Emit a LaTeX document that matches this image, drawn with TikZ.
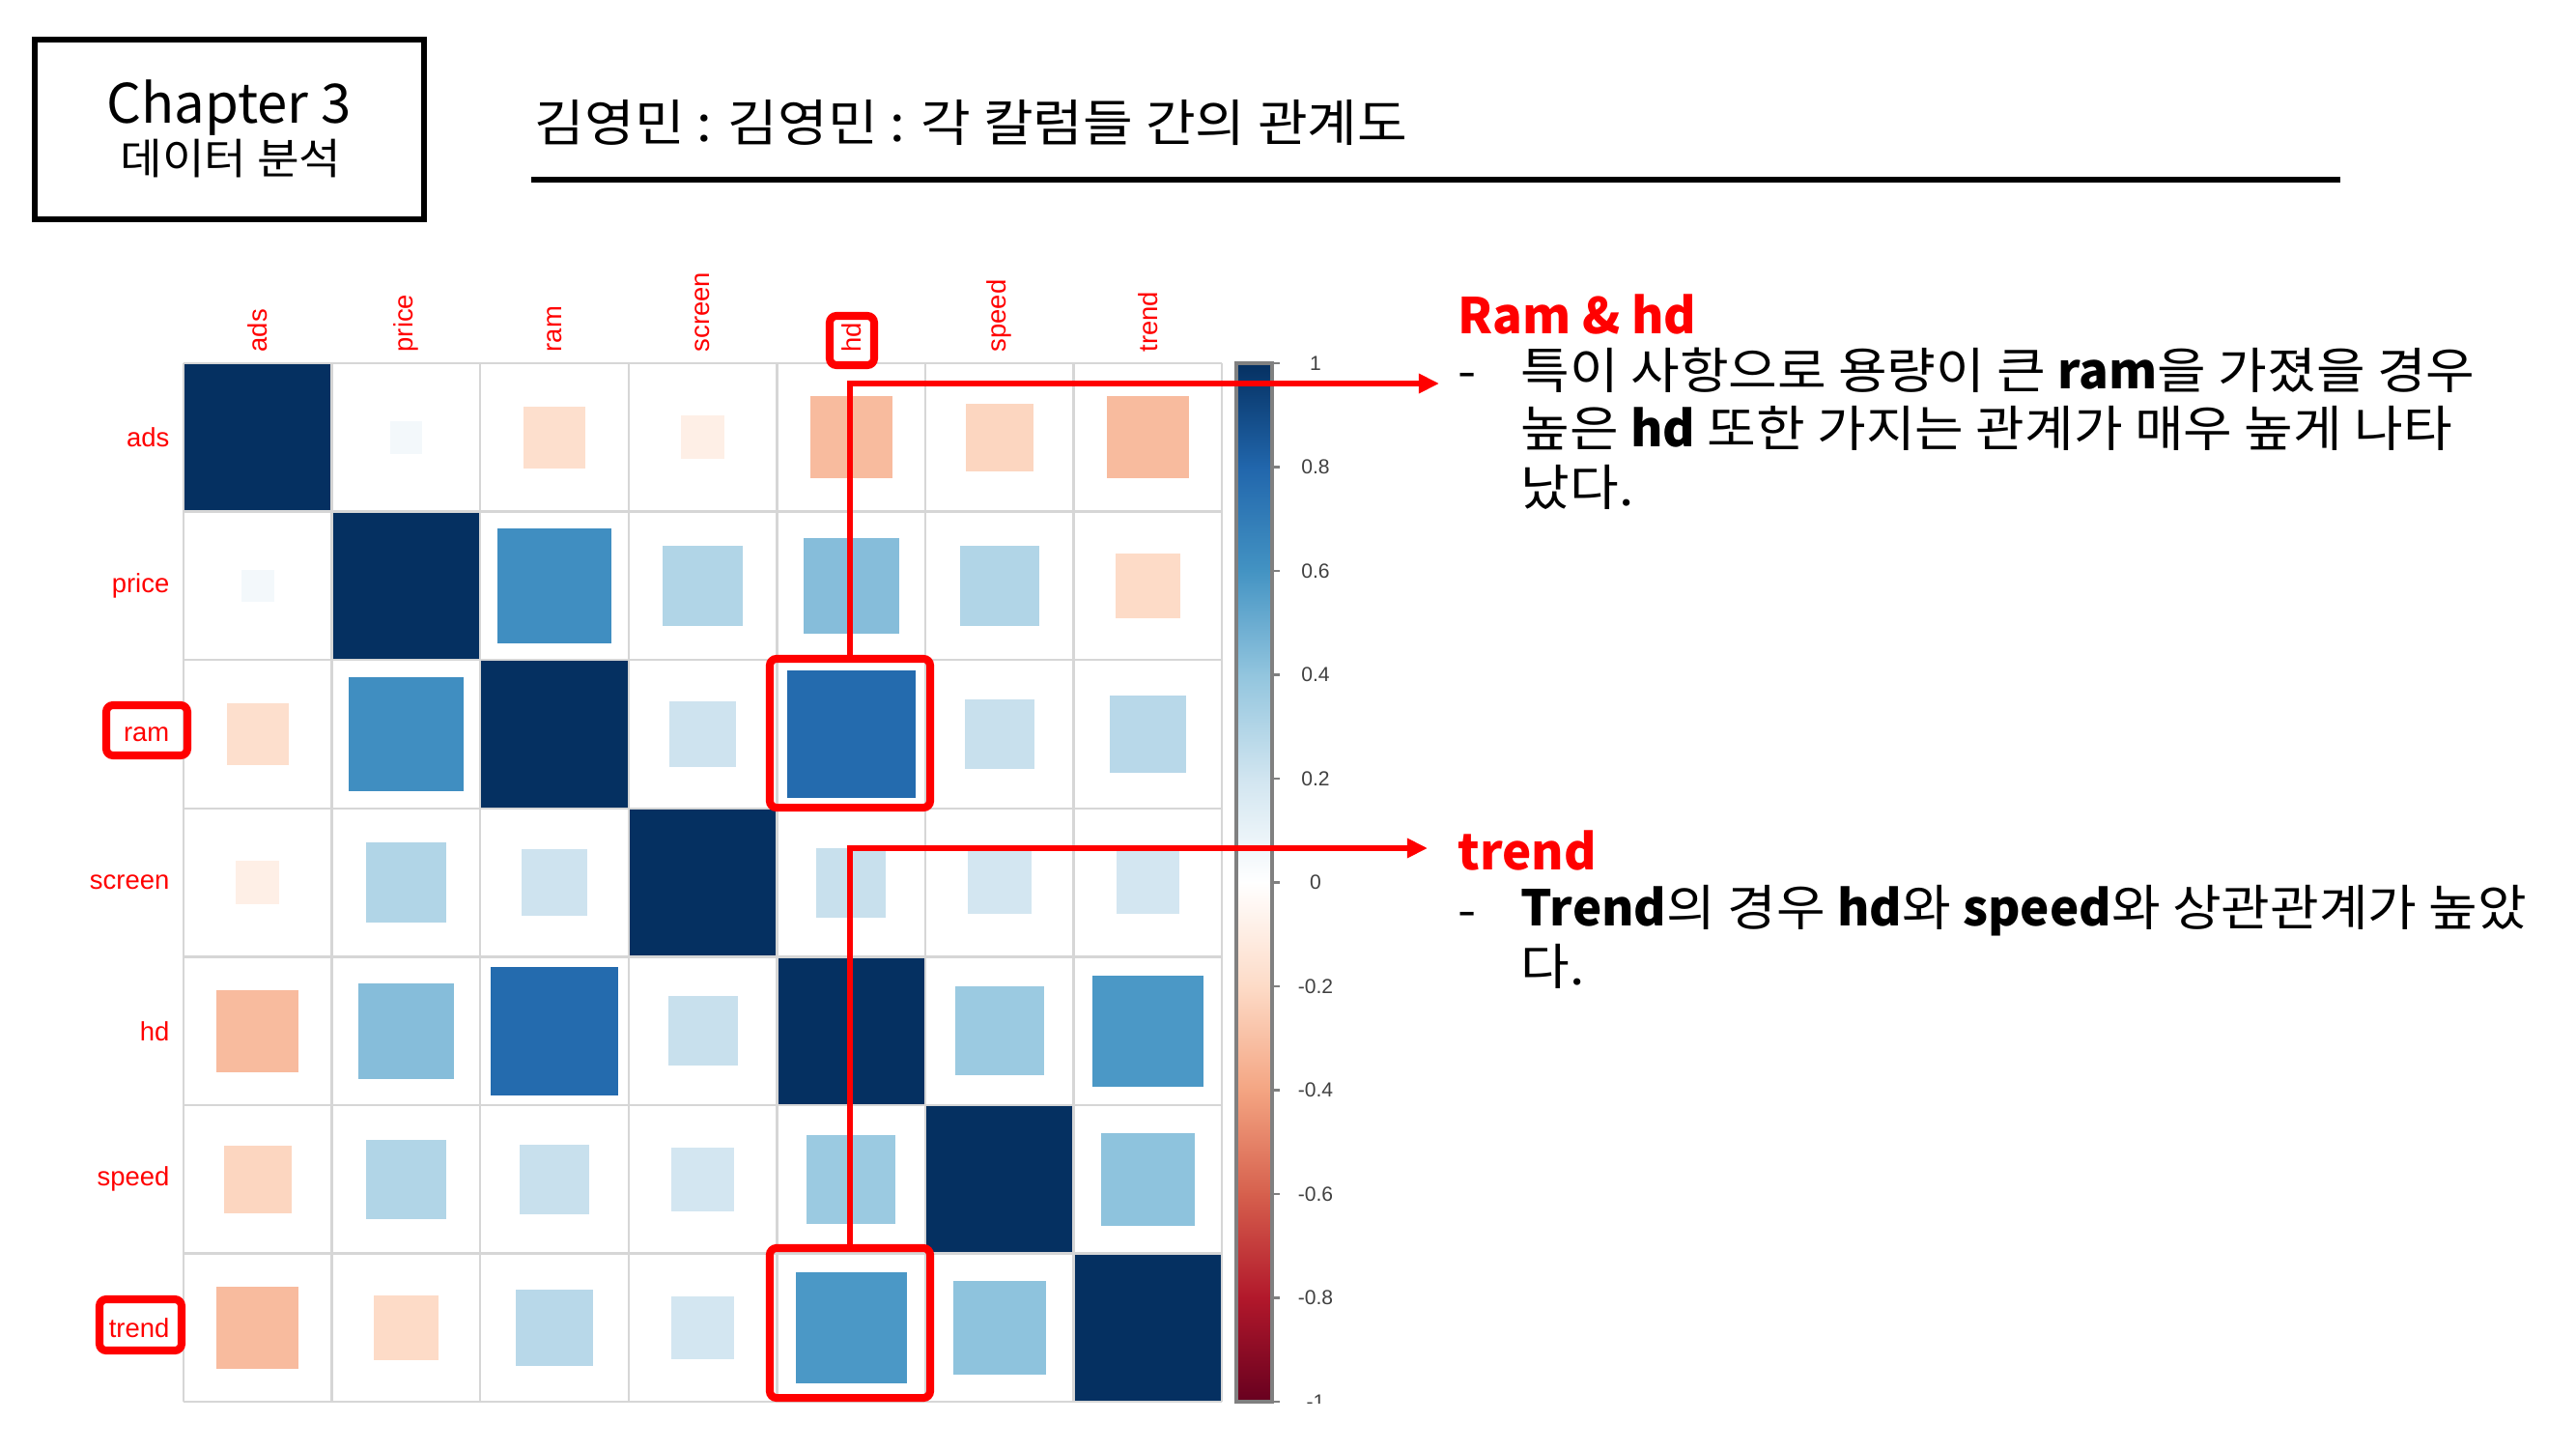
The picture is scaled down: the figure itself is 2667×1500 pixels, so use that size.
\documentclass[tikz,border=0pt]{standalone}
\usepackage{fontspec}
\setmainfont{Noto Sans CJK KR}
\newfontfamily\notefont{Noto Sans CJK KR}[UprightFeatures={FakeStretch=1.08}]
\newfontfamily\plotfont{Liberation Sans}
\usetikzlibrary{positioning, arrows.meta}

\definecolor{cm10}{HTML}{67001F}
\definecolor{cm8}{HTML}{B2182B}
\definecolor{cm6}{HTML}{D6604D}
\definecolor{cm4}{HTML}{F4A582}
\definecolor{cm2}{HTML}{FDDBC7}
\definecolor{cp2}{HTML}{D1E5F0}
\definecolor{cp4}{HTML}{92C5DE}
\definecolor{cp6}{HTML}{4393C3}
\definecolor{cp8}{HTML}{2166AC}
\definecolor{cp10}{HTML}{053061}
\definecolor{gridgray}{HTML}{D6D6D6}

\begin{document}
\begin{tikzpicture}[x=0.01cm, y=-0.01cm,
  hlbox/.style={draw=red, line width=2.3pt, rounded corners=2pt, inner sep=0pt},
  redarrow/.style={red, line width=1.7pt, -{Triangle[length=6pt,width=5.5pt]}},
  rowlab/.style={anchor=east, text=red, inner sep=0pt, font=\plotfont\fontsize{7.8}{9}\selectfont},
  collab/.style={rowlab, anchor=west, rotate=90},
  barlab/.style={text=black!75, inner sep=0pt, font=\plotfont\fontsize{6}{7}\selectfont},
  bodytext/.style={anchor=base west, align=left, inner sep=0pt, font=\notefont\fontsize{14.5}{17.07}\selectfont},
  headtext/.style={anchor=base west, inner sep=0pt, text=red, font=\fontsize{14.5}{17.07}\selectfont\bfseries}]

\useasboundingbox (0,0) rectangle (2667,1500);

% chapter box and title
\node[draw, line width=1.7pt, minimum width=4.03cm, minimum height=1.86cm] (chapbox) at (237.5,134) {};
\node[anchor=base, inner sep=0pt, font=\fontsize{16}{19}\selectfont] (chapnum) at (237,128) {Chapter 3};
\node[anchor=base, inner sep=0pt, font=\notefont\fontsize{12.5}{15}\selectfont] (chapname) at (239,180) {데이터 분석};
\node[anchor=base west, inner sep=0pt, font=\notefont\fontsize{14.8}{17}\selectfont] (title) at (553,147) {김영민 : 김영민 : 각 칼럼들 간의 관계도};
\draw[line width=1.7pt] (550,186) -- (2423,186);

% diagonal cells
\foreach \i in {0,...,6}
\fill[cp10] (190+\i*153.6,376+\i*153.6) rectangle +(153.6,153.6);

% squares for correlations
\foreach \i/\j/\r/\col in
{0/1/0.05/cp2!25!white, 0/2/-0.18/cm2!90!white, 0/3/-0.09/cm2!45!white,
 0/4/-0.32/cm4!60!cm2, 0/5/-0.22/cm4!10!cm2, 0/6/-0.32/cm4!60!cm2,
 1/2/0.62/cp8!10!cp6, 1/3/0.30/cp4!50!cp2, 1/4/0.43/cp6!15!cp4,
 1/5/0.30/cp4!50!cp2, 1/6/-0.20/cm2,
 2/3/0.21/cp4!5!cp2, 2/4/0.78/cp8!90!cp6, 2/5/0.23/cp4!15!cp2, 2/6/0.28/cp4!40!cp2,
 3/4/0.23/cp4!15!cp2, 3/5/0.19/cp2!95!white, 3/6/0.19/cp2!95!white,
 4/5/0.37/cp4!85!cp2, 4/6/0.58/cp6!90!cp4,
 5/6/0.41/cp6!5!cp4}
{
\pgfmathsetmacro\side{sqrt(abs(\r))*153.6*0.98}
\fill[fill=\col] ({190+(\j+0.5)*153.6-\side/2},{376+(\i+0.5)*153.6-\side/2}) rectangle +(\side,\side);
\fill[fill=\col] ({190+(\i+0.5)*153.6-\side/2},{376+(\j+0.5)*153.6-\side/2}) rectangle +(\side,\side);
}

% grid lines
\foreach \k in {0,...,7}
{
\draw[gridgray, line width=0.7pt] (190+\k*153.6,376) -- +(0,1075.2);
\draw[gridgray, line width=0.7pt] (190,376+\k*153.6) -- +(1075.2,0);
}

% row and column labels
\foreach \n/\lab in {0/ads,1/price,2/ram,3/screen,4/hd,5/speed,6/trend}
{
\node[rowlab] (row\lab) at (176,376+\n*153.6+76.8) {\lab};
\node[collab] (col\lab) at (190+\n*153.6+76.8,365) {\lab};
}

% colour bar
\foreach \k/\ctop/\cbot in
{0/cp10/cp8,1/cp8/cp6,2/cp6/cp4,3/cp4/cp2,4/cp2/white,5/white/cm2,6/cm2/cm4,7/cm4/cm6,8/cm6/cm8,9/cm8/cm10}
\shade[top color=\ctop, bottom color=\cbot] (1280,{376+\k*107.5-0.5}) rectangle (1317,{376+\k*107.5+108});
\draw[gray, line width=1pt] (1280,376) rectangle (1317,1451);

% ticks and values
\begin{scope}
\clip (1300,340) rectangle (1420,1452);
\foreach \k/\val in {0/1,1/0.8,2/0.6,3/0.4,4/0.2,5/0,6/-0.2,7/-0.4,8/-0.6,9/-0.8,10/-1}
{
\draw[gray, line width=0.6pt] (1317,376+\k*107.5) -- +(8,0);
\node[barlab] (bar\k) at (1362,376+\k*107.5) {\val};
}
\end{scope}

% highlight boxes
\node[hlbox, minimum width=0.46cm, minimum height=0.51cm] (hlhd) at (882,352.5) {};
\node[hlbox, minimum width=0.84cm, minimum height=0.52cm] (hlram) at (152,756) {};
\node[hlbox, minimum width=0.85cm, minimum height=0.53cm] (hltrend) at (145.5,1371.5) {};
\node[hlbox, minimum width=1.66cm, minimum height=1.54cm] (hlramhd) at (880,759) {};
\node[hlbox, minimum width=1.66cm, minimum height=1.55cm] (hltrendhd) at (880,1369.5) {};

% arrows to the notes
\coordinate (ramhdtip) at (1490,397);
\coordinate (trendtip) at (1478,878);
\draw[redarrow] (hlramhd.north) |- (ramhdtip);
\draw[redarrow] (hltrendhd.north) |- (trendtip);

% notes (anchored on the last line)
\node[headtext] (ramhdhead) at (1509,345) {Ram \& hd};
\node[bodytext] (ramhddash) at (1509,402) {-};
\node[bodytext] (ramhdbody) at (1574,523) {특이 사항으로 용량이 큰 \textbf{ram}을 가졌을 경우\\높은 \textbf{hd} 또한 가지는 관계가 매우 높게 나타\\났다.};

\node[headtext] (trendhead) at (1509,900) {trend};
\node[bodytext] (trenddash) at (1509,960) {-};
\node[bodytext] (trendbody) at (1574,1019) {\textbf{Trend}의 경우 \textbf{hd}와 \textbf{speed}와 상관관계가 높았\\다.};

\end{tikzpicture}
\end{document}
